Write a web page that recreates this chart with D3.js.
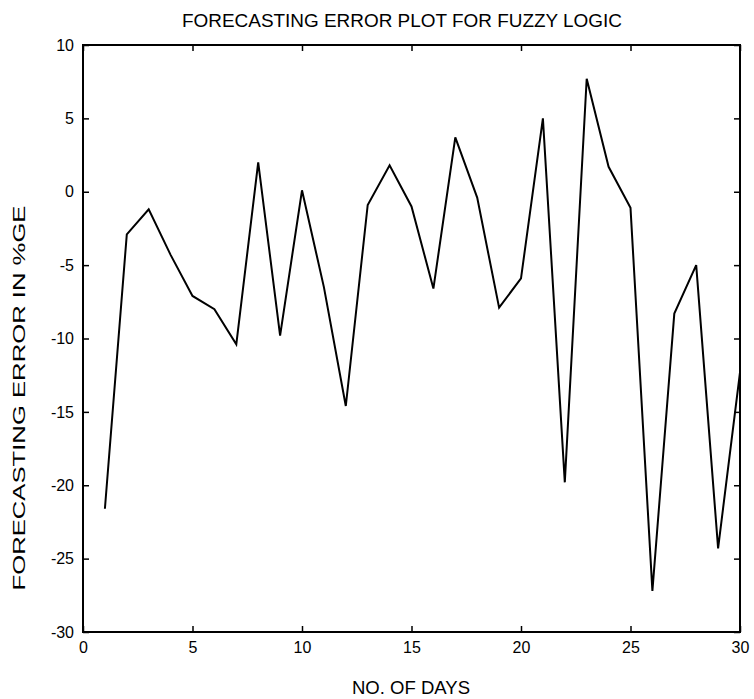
<!DOCTYPE html>
<html>
<head>
<meta charset="utf-8">
<script src="https://cdn.jsdelivr.net/npm/d3@7"></script>
<style>
  body { margin: 0; background: #fff; }
  text { font-family: "Liberation Sans", Arial, sans-serif; fill: #000; }
  .tick text { font-size: 16px; }
  .domain { display: none; }
  .tick line { stroke: #000; stroke-width: 1.5; }
</style>
</head>
<body>
<div id="svg"></div>
<script>
// forecasting error per day (%)
let days = d3.range(1, 31);
let errors = [-21.6, -2.9, -1.2, -4.3, -7.1, -8.0, -10.4, 2.0, -9.8, 0.1,
              -6.5, -14.6, -0.9, 1.8, -1.0, -6.6, 3.7, -0.4, -7.9, -5.9,
              5.0, -19.8, 7.7, 1.7, -1.1, -27.2, -8.3, -5.0, -24.3, -12.3];
let xTicks = [0, 5, 10, 15, 20, 25, 30];
let yTicks = [-30, -25, -20, -15, -10, -5, 0, 5, 10];

function makeGraph(){
  let w = 754;
  let h = 699;
  let left = 83, right = 740, top = 45, bottom = 632;

  let svg = d3.select('#svg').append('svg').attr('width', w).attr('height', h);

  let xScale = d3.scaleLinear().domain([0, 30]).range([left, right]);
  let yScale = d3.scaleLinear().domain([-30, 10]).range([bottom, top]);

  // plain hyphen for negatives, like the original
  let fmt = (d) => String(d);

  // ticks point inward on all four sides, matlab style
  svg.append('g')
    .attr('transform', `translate(0, ${bottom})`)
    .call(d3.axisBottom(xScale).tickValues(xTicks).tickFormat(fmt).tickSizeInner(-6).tickSizeOuter(0).tickPadding(10));
  svg.append('g')
    .attr('transform', `translate(0, ${top})`)
    .call(d3.axisTop(xScale).tickValues(xTicks).tickSizeInner(-6).tickSizeOuter(0).tickFormat(''));
  svg.append('g')
    .attr('transform', `translate(${left}, 0)`)
    .call(d3.axisLeft(yScale).tickValues(yTicks).tickFormat(fmt).tickSizeInner(-6).tickSizeOuter(0).tickPadding(9));
  svg.append('g')
    .attr('transform', `translate(${right}, 0)`)
    .call(d3.axisRight(yScale).tickValues(yTicks).tickSizeInner(-6).tickSizeOuter(0).tickFormat(''));

  svg.append('rect')
    .attr('x', left).attr('y', top)
    .attr('width', right - left).attr('height', bottom - top)
    .attr('fill', 'none').attr('stroke', '#000').attr('stroke-width', 2);

  let line = d3.line()
    .x((d, i) => xScale(days[i]))
    .y((d) => yScale(d));

  svg.append('path')
    .datum(errors)
    .attr('d', line)
    .attr('fill', 'none')
    .attr('stroke', '#000')
    .attr('stroke-width', 2);

  svg.append('text')
    .attr('x', 402)
    .attr('y', 27)
    .attr('text-anchor', 'middle')
    .attr('textLength', 440)
    .attr('lengthAdjust', 'spacingAndGlyphs')
    .style('font-size', '18px')
    .text('FORECASTING ERROR PLOT FOR FUZZY LOGIC');

  svg.append('text')
    .attr('x', 411)
    .attr('y', 694)
    .attr('text-anchor', 'middle')
    .attr('textLength', 118)
    .attr('lengthAdjust', 'spacingAndGlyphs')
    .style('font-size', '18px')
    .text('NO. OF DAYS');

  svg.append('text')
    .attr('transform', 'rotate(-90)')
    .attr('x', -398)
    .attr('y', 25)
    .attr('text-anchor', 'middle')
    .attr('textLength', 385)
    .attr('lengthAdjust', 'spacingAndGlyphs')
    .style('font-size', '17px')
    .text('FORECASTING ERROR IN %GE');
}

window.onload = function(){
  makeGraph();
}
</script>
</body>
</html>
